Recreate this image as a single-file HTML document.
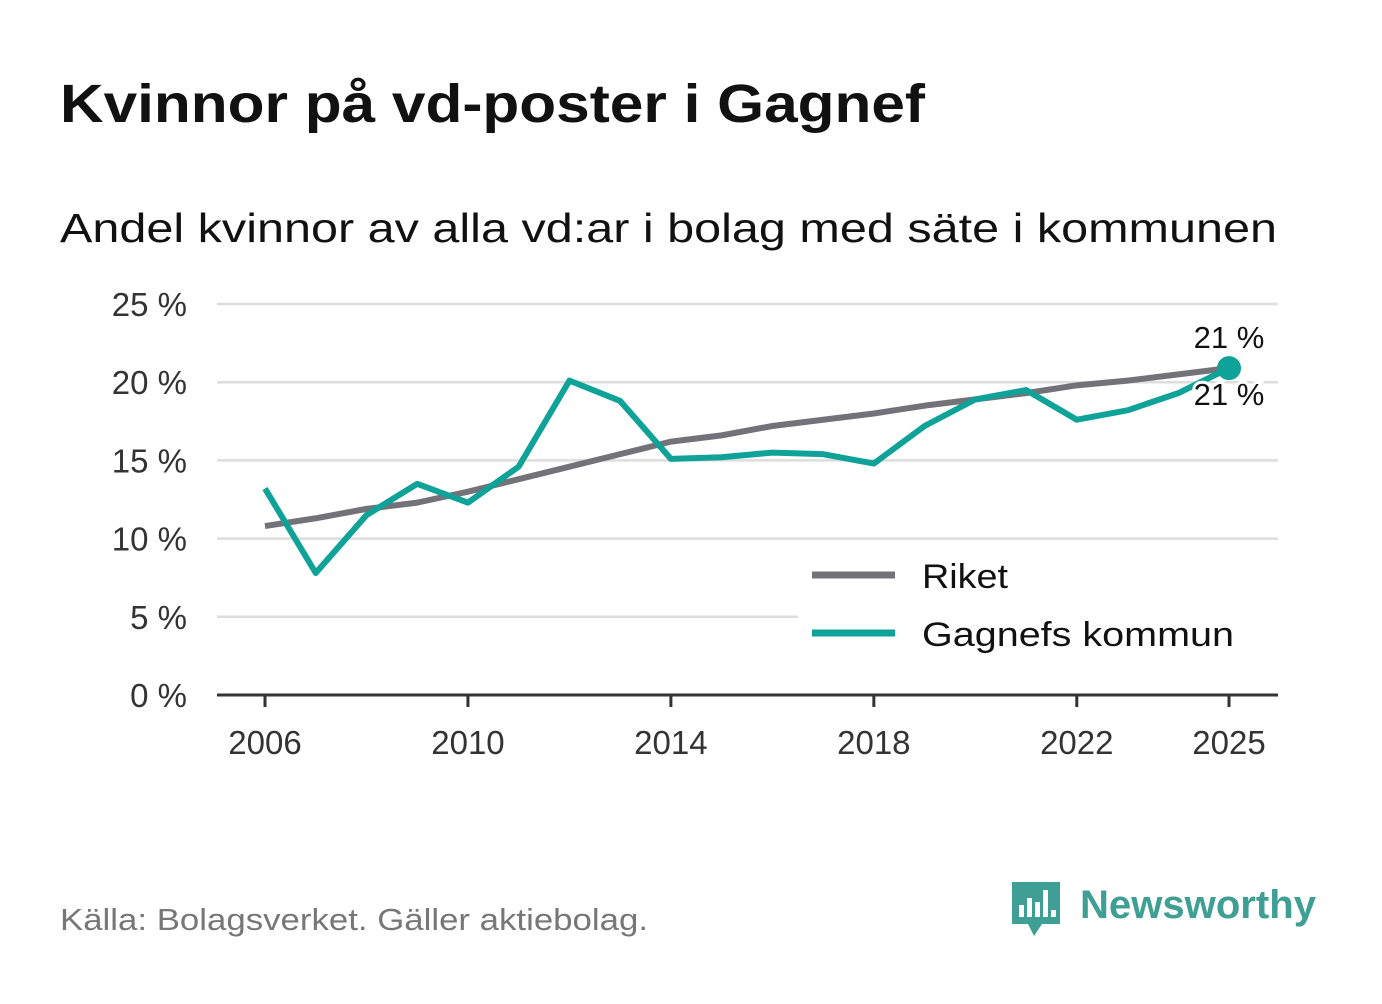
<!DOCTYPE html>
<html><head><meta charset="utf-8"><style>
body{margin:0;background:#fff;width:1382px;height:999px;overflow:hidden;font-family:"Liberation Sans",sans-serif}
</style></head><body>
<svg width="1382" height="999" xmlns="http://www.w3.org/2000/svg">
<text x="60" y="122" font-size="54" font-weight="bold" fill="#111" textLength="865" lengthAdjust="spacingAndGlyphs">Kvinnor på vd-poster i Gagnef</text>
<text x="60" y="242" font-size="41" fill="#111" textLength="1217" lengthAdjust="spacingAndGlyphs">Andel kvinnor av alla vd:ar i bolag med säte i kommunen</text>
<g id="grid"></g><g id="axes"></g><g id="series"></g>
<g>
<rect x="798" y="545" width="482" height="112" fill="#fff"/>
<line x1="812" y1="575" x2="895" y2="575" stroke="#737278" stroke-width="7"/>
<text x="922" y="588" font-size="34" fill="#111" textLength="86" lengthAdjust="spacingAndGlyphs">Riket</text>
<line x1="812" y1="633" x2="895" y2="633" stroke="#0fa298" stroke-width="7"/>
<text x="922" y="646" font-size="34" fill="#111" textLength="312" lengthAdjust="spacingAndGlyphs">Gagnefs kommun</text>
</g>
<text x="60" y="930" font-size="31" fill="#777" textLength="588" lengthAdjust="spacingAndGlyphs">Källa: Bolagsverket. Gäller aktiebolag.</text>
<g>
<path d="M1012 882h48v42h-18l-8 12-6-12h-16z" fill="#3f9f94"/>
<rect x="1019" y="905" width="5" height="12" fill="#fff"/><rect x="1027" y="898" width="5" height="19" fill="#fff"/><rect x="1035" y="902" width="5" height="15" fill="#fff"/><rect x="1043" y="890" width="5" height="27" fill="#fff"/><rect x="1051" y="910" width="5" height="7" fill="#fff"/>
<text x="1080" y="918" font-size="40" font-weight="bold" fill="#3f9f94" textLength="236" lengthAdjust="spacingAndGlyphs">Newsworthy</text>
</g>
</svg>
<script>
const years=[2006,2007,2008,2009,2010,2011,2012,2013,2014,2015,2016,2017,2018,2019,2020,2021,2022,2023,2024,2025];
const riket=[10.8,11.3,11.9,12.3,13.0,13.8,14.6,15.4,16.2,16.6,17.2,17.6,18.0,18.5,18.9,19.3,19.8,20.1,20.5,20.9];
const gagnef=[13.2,7.8,11.5,13.5,12.3,14.6,20.1,18.8,15.1,15.2,15.5,15.4,14.8,17.2,18.9,19.5,17.6,18.2,19.3,20.9];
const yTicks=[0,5,10,15,20,25];
const xTicks=[2006,2010,2014,2018,2022,2025];
const NS="http://www.w3.org/2000/svg";
const X=y=>265+(y-2006)*(1229-265)/19;
const Y=v=>695-v*(695-304)/25;
function mk(t,a,p){const e=document.createElementNS(NS,t);for(const k in a)e.setAttribute(k,a[k]);document.getElementById(p).appendChild(e);return e;}
yTicks.forEach(v=>{
 if(v>0){const l=mk('line',{x1:217,x2:1278,y1:Y(v),y2:Y(v),stroke:'#ddd','stroke-width':2.5},'grid');
 
 }
 const t=mk('text',{x:187,y:Y(v)+12,'font-size':33,fill:'#333','text-anchor':'end'},'axes');t.textContent=v+' %';
 
 
});
const ax=mk('line',{x1:217,x2:1278,y1:695,y2:695,stroke:'#333','stroke-width':3},'axes');


xTicks.forEach(y=>{
 const tk=mk('line',{x1:X(y),x2:X(y),y1:695,y2:707,stroke:'#333','stroke-width':3},'axes');
 
 
 const t=mk('text',{x:X(y),y:754,'font-size':33,fill:'#333','text-anchor':'middle'},'axes');t.textContent=y;
 
 
});
function line(vals,col,name){
 const p=mk('polyline',{points:vals.map((v,i)=>X(years[i])+','+Y(v)).join(' '),fill:'none',stroke:col,'stroke-width':6,'stroke-linejoin':'round'},'series');
 
 
}
line(riket,'#737278','riket-line');
line(gagnef,'#0fa298','gagnef-line');
const n=years.length-1;
const d=mk('circle',{cx:X(years[n]),cy:Y(gagnef[n]),r:12,fill:'#0fa298'},'series');


const l1=mk('text',{x:X(years[n]),y:Y(gagnef[n])-20,'font-size':31,fill:'#111','text-anchor':'middle',stroke:'#fff','stroke-width':6,'paint-order':'stroke'},'series');
l1.textContent=Math.round(gagnef[n])+' %';


const l2=mk('text',{x:X(years[n]),y:Y(riket[n])+37,'font-size':31,fill:'#111','text-anchor':'middle',stroke:'#fff','stroke-width':6,'paint-order':'stroke'},'series');
l2.textContent=Math.round(riket[n])+' %';


</script>
</body></html>
